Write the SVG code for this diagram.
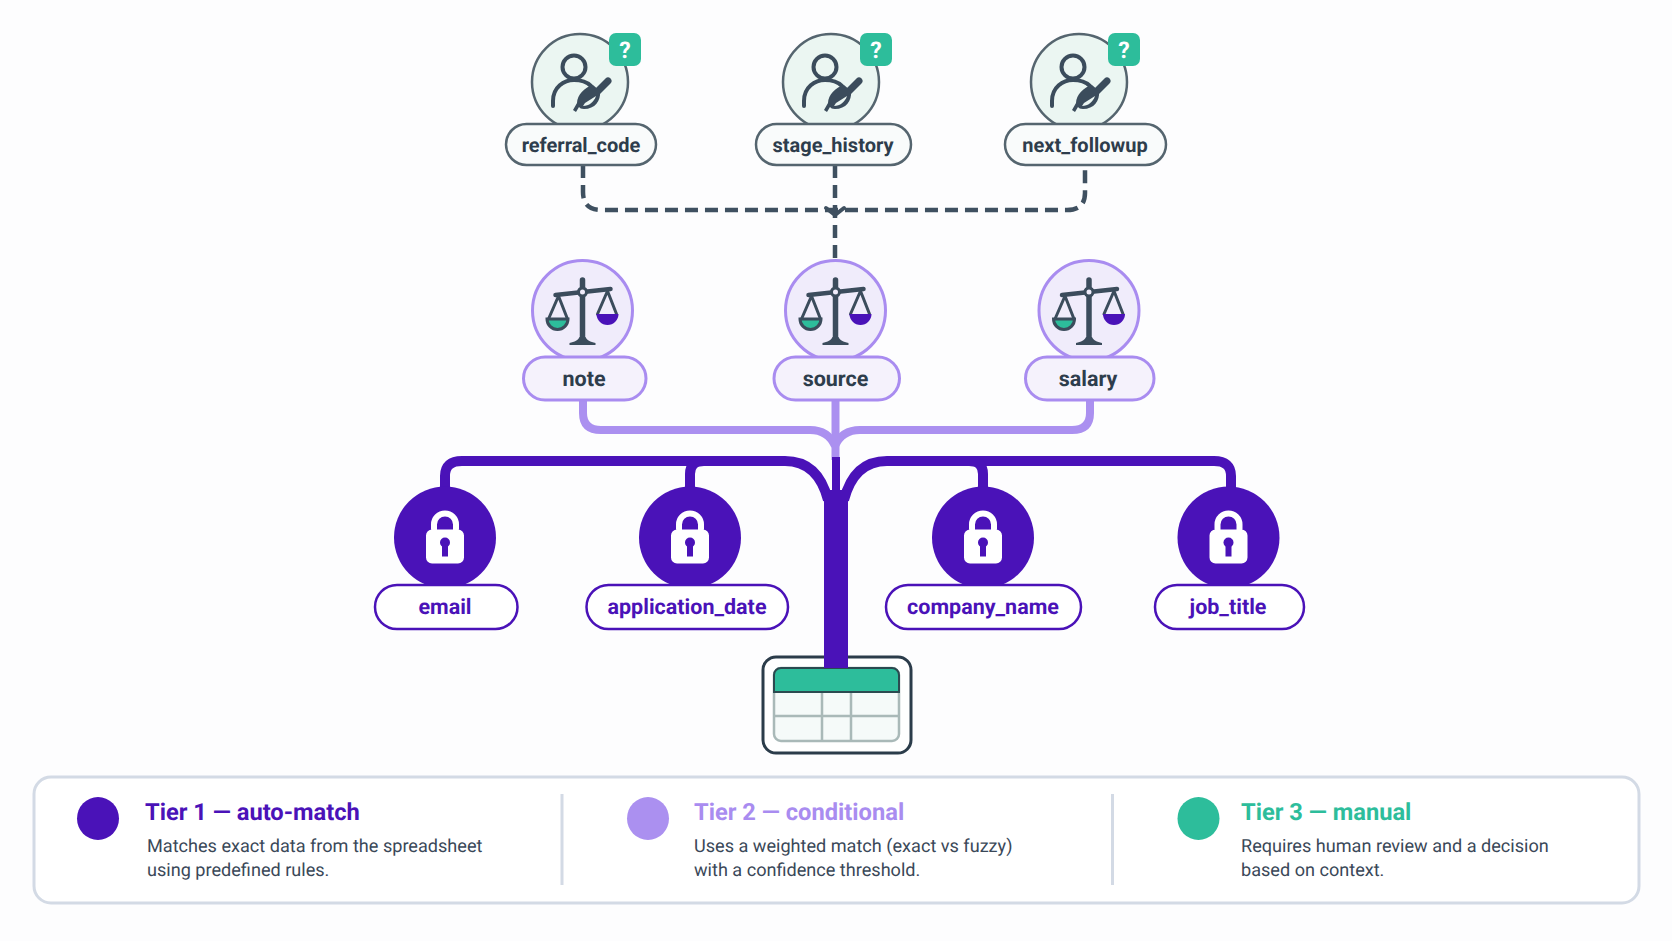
<svg xmlns="http://www.w3.org/2000/svg" width="1672" height="941" viewBox="0 0 1672 941">
<style>
text{font-family:Roboto,"Liberation Sans",sans-serif;text-rendering:geometricPrecision}
.lbl{font-size:20px;font-weight:700;text-anchor:middle}
.l2{font-size:21.500px}
.gray{fill:#2e3d4c}.pur{fill:#4a12b8}.lil{fill:#a98cf0}.grn{fill:#2dbd9b}
.c3{fill:#ebf6f2;stroke:#55656f;stroke-width:2.500}
.p3{fill:#f9fbfb;stroke:#55656f;stroke-width:2.500}
.c2{fill:#f0ecfb;stroke:#a98cf0;stroke-width:3}
.p2{fill:#f5f2fc;stroke:#a98cf0;stroke-width:3}
.c1{fill:#4a12b8}
.p1{fill:#fff;stroke:#4a12b8;stroke-width:2.500}
.title{font-size:23.700px;font-weight:700}
.desc{font-size:18.100px;fill:#3a4858}
.div{stroke:#d3dae5;stroke-width:3}
.ic{fill:none;stroke:#3b4c5c;stroke-linecap:round;stroke-linejoin:round}
</style>
<defs>
<g id="person">
<circle class="ic" cx="-6" cy="-15" r="11.500" stroke-width="4"/>
<path class="ic" stroke-width="4" d="M-27,24V19C-27,5-16-2-6-2C1-2 7,0 11,4"/>
<path class="ic" stroke-width="7" d="M28,-1L14,13"/>
<path fill="#3b4c5c" d="M20,9C21,19 15,27 4,27C1,27 0,26-1,25L-4,30L-7,28L-3,21C-3,13 5,5 13,3Z"/>
<path fill="#ebf6f2" d="M3,24C9,24 14,20 16,14L5,21Z"/>
</g>
<g id="badge">
<rect x="0" y="0" width="32" height="33" rx="7" fill="#2dbd9b"/>
<text x="16" y="25" font-size="23" font-weight="700" fill="#fff" text-anchor="middle">?</text>
</g>
<g id="scale">
<path class="ic" stroke-width="5.500" d="M0,-31V30"/>
<path class="ic" stroke-width="4.500" d="M-27,-16L28,-22"/>
<path fill="#3b4c5c" d="M-13,34V32C-8,31-4,29-3,26H3C4,29 8,31 13,32V34Z"/>
<circle cx="0" cy="-19" r="4" fill="#f0ecfb" stroke="#3b4c5c" stroke-width="3"/>
<path class="ic" stroke-width="3" d="M-34,8L-24,-15L-15,8M15,3L25,-20L34,3"/>
<path d="M-35.500,8H-14.500A10.500,10.500 0 0 1-35.500,8Z" fill="#2dbd9b" stroke="#3b4c5c" stroke-width="3"/>
<path d="M14,3H36A11,11 0 0 1 14,3Z" fill="#4a12b8"/>
</g>
<g id="lock">
<path fill="#fff" fill-rule="evenodd" d="M-14,-8V-13A14,14 0 0 1 14,-13V-8H13A6,6 0 0 1 19,-2V20A6,6 0 0 1 13,26H-13A6,6 0 0 1-19,20V-2A6,6 0 0 1-13,-8ZM-8,-8H8V-13A8,8 0 0 0-8,-13Z"/>
<circle cx="0" cy="5" r="5" fill="#4a12b8"/>
<rect x="-3" y="6" width="6" height="13" fill="#4a12b8"/>
</g>
</defs>
<rect width="1672" height="941" fill="#fdfdfe"/>
<g id="node-table">
<rect x="763" y="657" width="148" height="96" rx="13" fill="#fff" stroke="#2b3c4a" stroke-width="3"/>
<rect x="774" y="668" width="125" height="73" rx="7" fill="#f5faf9" stroke="#a9b9b8" stroke-width="2.500"/>
<path d="M822,692V741M851,692V741M774,716H899" stroke="#a9b9b8" stroke-width="2.500" fill="none"/>
<path d="M774,692V675A7,7 0 0 1 781,668H892A7,7 0 0 1 899,675V692Z" fill="#2dbd9b" stroke="#2b4a50" stroke-width="2"/>
</g>
<g id="connectors" fill="none">
<path stroke="#3f5060" stroke-width="4.500" stroke-dasharray="13 7" d="M583,165V192Q583,210 601,210H1067Q1085,210 1085,193V165"/>
<path stroke="#3f5060" stroke-width="4.500" stroke-dasharray="13 7" d="M835,165V261"/>
<path stroke="#3f5060" stroke-width="4" d="M826,208L835,215L844,208" stroke-linecap="round"/>
<g stroke="#ab90f0" stroke-width="8">
<path d="M583,401V413Q583,430 601,430H810Q828,430 835,446"/>
<path d="M1090,401V413Q1090,430 1072,430H860Q842,430 835,446"/>
<path d="M835.500,401V460"/>
</g>
<g stroke="#4a12b8" stroke-width="10">
<path d="M445,495V476Q445,461 462,461H785Q818,461 828,500"/>
<path d="M1231,495V476Q1231,461 1214,461H887Q854,461 844,500"/>
<path d="M690,495V474Q690,461 704,461"/>
<path d="M983,495V474Q983,461 969,461"/>
</g>
<path d="M836,457V500" stroke="#4a12b8" stroke-width="8"/>
<path d="M836,490V668" stroke="#4a12b8" stroke-width="24"/>
</g>
<g id="node-referral_code"><circle class="c3" cx="580" cy="82" r="48"/><use href="#person" x="580" y="82"/><use href="#badge" x="609" y="33"/><rect class="p3" x="506" y="124" width="150" height="41" rx="20.500"/><text class="lbl gray" x="581" y="152">referral_code</text></g>
<g id="node-stage_history"><circle class="c3" cx="831" cy="82" r="48"/><use href="#person" x="831" y="82"/><use href="#badge" x="860" y="33"/><rect class="p3" x="756" y="124" width="155" height="41" rx="20.500"/><text class="lbl gray" x="833" y="152">stage_history</text></g>
<g id="node-next_followup"><circle class="c3" cx="1079" cy="82" r="48"/><use href="#person" x="1079" y="82"/><use href="#badge" x="1108" y="33"/><rect class="p3" x="1005" y="124" width="161" height="41" rx="20.500"/><text class="lbl gray" x="1085" y="152">next_followup</text></g>
<g id="node-note"><circle class="c2" cx="582.500" cy="310.500" r="50"/><use href="#scale" x="582.500" y="311"/><rect class="p2" x="523.500" y="357" width="122.500" height="43" rx="21.500"/><text class="lbl l2 gray" x="584" y="386">note</text></g>
<g id="node-source"><circle class="c2" cx="835.500" cy="310.500" r="50"/><use href="#scale" x="835.500" y="311"/><rect class="p2" x="774" y="357" width="125.500" height="43" rx="21.500"/><text class="lbl l2 gray" x="835.500" y="386">source</text></g>
<g id="node-salary"><circle class="c2" cx="1089" cy="310.500" r="50"/><use href="#scale" x="1089" y="311"/><rect class="p2" x="1025.500" y="357" width="128.500" height="43" rx="21.500"/><text class="lbl l2 gray" x="1088" y="386">salary</text></g>
<g id="node-email"><circle class="c1" cx="445" cy="537.500" r="51"/><use href="#lock" x="445" y="537.500"/><rect class="p1" x="375" y="585" width="142.500" height="44" rx="22"/><text class="lbl l2 pur" x="445" y="614">email</text></g>
<g id="node-application_date"><circle class="c1" cx="690" cy="537.500" r="51"/><use href="#lock" x="690" y="537.500"/><rect class="p1" x="586.500" y="585" width="201.500" height="44" rx="22"/><text class="lbl l2 pur" x="687" y="614">application_date</text></g>
<g id="node-company_name"><circle class="c1" cx="983" cy="537.500" r="51"/><use href="#lock" x="983" y="537.500"/><rect class="p1" x="886" y="585" width="195" height="44" rx="22"/><text class="lbl l2 pur" x="983" y="614">company_name</text></g>
<g id="node-job_title"><circle class="c1" cx="1228.500" cy="537.500" r="51"/><use href="#lock" x="1228.500" y="537.500"/><rect class="p1" x="1155" y="585" width="149" height="44" rx="22"/><text class="lbl l2 pur" x="1228" y="614">job_title</text></g>
<g id="legend">
<rect x="34" y="777" width="1605" height="126" rx="17" fill="#fff" stroke="#d3dae5" stroke-width="3"/>
<path class="div" d="M562,794V885M1112.500,794V885"/>
<ellipse cx="98" cy="818.500" rx="21" ry="21.500" fill="#4a12b8"/>
<ellipse cx="648" cy="818.500" rx="21" ry="21.500" fill="#ab90f0"/>
<ellipse cx="1198.500" cy="818.500" rx="21" ry="21.500" fill="#2dbd9b"/>
<text class="title pur" x="145" y="820">Tier 1 — auto-match</text>
<text class="desc" x="147" y="851.500">Matches exact data from the spreadsheet</text>
<text class="desc" x="147" y="876">using predefined rules.</text>
<text class="title lil" x="694" y="820">Tier 2 — conditional</text>
<text class="desc" x="694" y="851.500">Uses a weighted match (exact vs fuzzy)</text>
<text class="desc" x="694" y="876">with a confidence threshold.</text>
<text class="title grn" x="1241" y="820">Tier 3 — manual</text>
<text class="desc" x="1241" y="851.500">Requires human review and a decision</text>
<text class="desc" x="1241" y="876">based on context.</text>
</g>
</svg>
